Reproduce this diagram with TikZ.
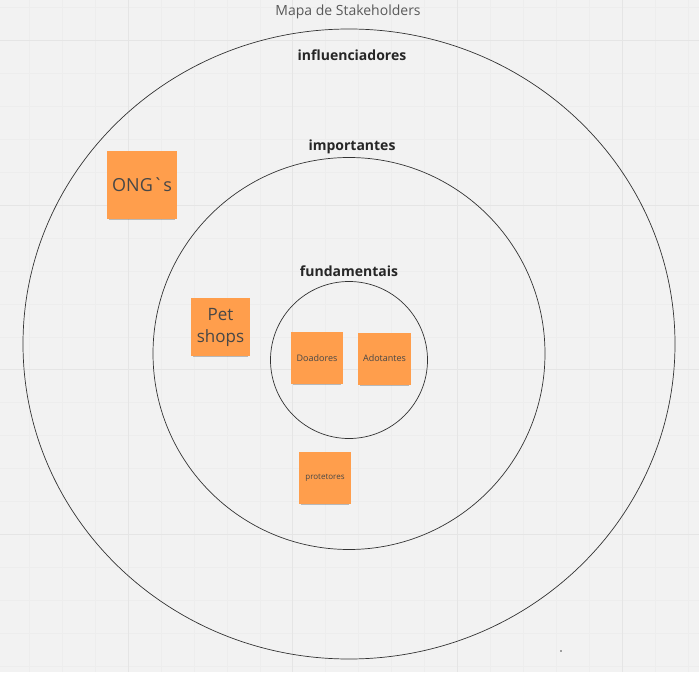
\documentclass[tikz,border=0pt]{standalone}
\usepackage{fontspec}
\setmainfont{Open Sans}
\newfontfamily\rawfont{Open Sans}[Ligatures=TeXOff]
\usetikzlibrary{shadows}

\definecolor{boardbg}{HTML}{F2F2F2}
\definecolor{gridminor}{HTML}{EDEDED}
\definecolor{gridmajor}{HTML}{E5E5E5}
\definecolor{stickyorange}{HTML}{FF9E4C}

\tikzset{
  sticky/.style={rectangle, fill=stickyorange, inner sep=0pt, align=center,
    text=black!72, drop shadow={shadow xshift=0pt, shadow yshift=-3pt, shadow scale=0.94, opacity=0.3, fill=black!80}},
  ringlabel/.style={font=\bfseries\fontsize{14}{16}\selectfont, text=black!85},
  ring/.style={draw=black!80, line width=0.7pt}
}

\begin{document}
\begin{tikzpicture}[x=1pt,y=-1pt]
            \useasboundingbox (0,0) rectangle (699,679);
            \fill[boardbg] (0,0) rectangle (699,679);

            % grid of the board
            \foreach \i in {-5,...,21}
                \draw[gridminor, line width=0.5pt] (128+32.94*\i,0) -- (128+32.94*\i,672);
            \foreach \i in {-6,...,20}
                \draw[gridminor, line width=0.5pt] (0,40.3+32.94*\i) -- (699,40.3+32.94*\i);
            \foreach \i in {0,...,3}
                \draw[gridmajor, line width=0.9pt] (128+164.7*\i,0) -- (128+164.7*\i,672);
            \foreach \i in {0,...,3}
                \draw[gridmajor, line width=0.9pt] (0,40.3+164.7*\i) -- (699,40.3+164.7*\i);
            \fill[white] (0,672) rectangle (699,679);

            \node[text=black!65, font=\fontsize{14}{16}\selectfont] (title) at (348,12) {Mapa de Stakeholders};

            % rings
            \draw[ring] (349,344) ellipse [x radius=326, y radius=315];
            \draw[ring] (349,353.5) circle [radius=196];
            \draw[ring] (349,360) circle [radius=78.5];

            \node[ringlabel] (infl) at (352,55) {influenciadores};
            \node[ringlabel] (impo) at (352,147) {importantes};
            \node[ringlabel] (fund) at (349,271) {fundamentais};

            % stickies
            \node[sticky, minimum width=70pt, minimum height=68pt, font=\rawfont\fontsize{18}{21}\selectfont] (ongs) at (142,185) {ONG`s};
            \node[sticky, minimum width=59pt, minimum height=58pt, font=\fontsize{17}{22}\selectfont] (petshops) at (220.5,327) {Pet\\shops};
            \node[sticky, minimum width=52pt, minimum height=52pt, font=\fontsize{9}{11}\selectfont] (doadores) at (317,358) {Doadores};
            \node[sticky, minimum width=53pt, minimum height=52pt, font=\fontsize{9}{11}\selectfont] (adotantes) at (384.5,358.5) {Adotantes};
            \node[sticky, minimum width=52pt, minimum height=52pt, font=\fontsize{8}{10}\selectfont] (protetores) at (325,478) {protetores};

            \fill[black!70] (561,651) circle [radius=0.8];
\end{tikzpicture}
\end{document}
